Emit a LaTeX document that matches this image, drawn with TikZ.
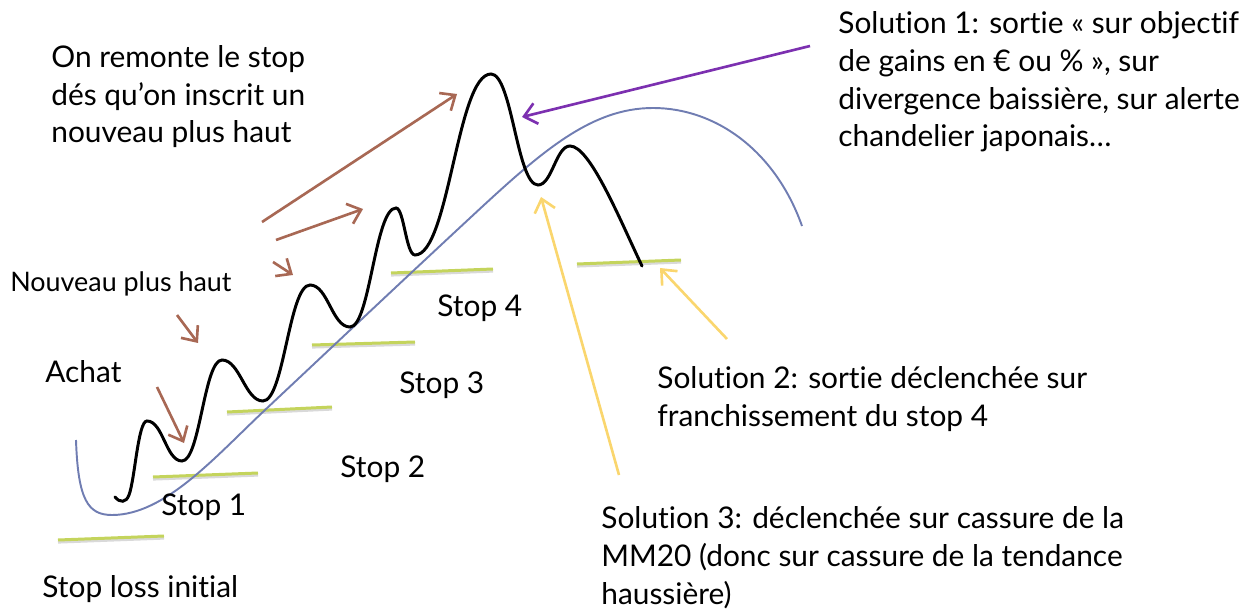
\documentclass[tikz,border=0pt]{standalone}
\usepackage{fontspec}
\setmainfont{Lato}[Ligatures=NoCommon]
\usepackage{tikz}
\usetikzlibrary{arrows.meta}

\definecolor{mmblue}{RGB}{112,125,178}
\definecolor{upbrown}{RGB}{168,104,84}
\definecolor{exitpurple}{RGB}{124,48,176}
\definecolor{exityellow}{RGB}{250,214,110}
\definecolor{stopgreen}{RGB}{196,212,92}

\tikzset{
  txt/.style={anchor=base west, inner sep=0pt, align=left,
    font=\fontsize{17}{21.6}\selectfont},
  stopline/.style={stopgreen, line width=1.7pt,
    preaction={draw=black!15, line width=1.7pt, transform canvas={yshift=-1.2pt}}},
  arr/.style={line width=1.5pt, -{Straight Barb[length=7pt,width=12pt]}},
}

\begin{document}
\begin{tikzpicture}[x=0.02cm, y=-0.02cm]
  \useasboundingbox (0,0) rectangle (1260,614);

  % stops
  \draw[stopline] (58,540) -- (164,536);
  \draw[stopline] (153,477) -- (258,473);
  \draw[stopline] (227,412) -- (332,407);
  \draw[stopline] (312,345) -- (415,342);
  \draw[stopline] (391,273) -- (493,269);
  \draw[stopline] (577,264) -- (681,260);

  % MM20
  \draw[mmblue, line width=1.1pt] (76,440) .. controls (78,500) and (88,515) .. (112,515)
    .. controls (165,515) and (215,457) .. (265,410)
    .. controls (330,349) and (400,283) .. (470,218)
    .. controls (540,153) and (590,108) .. (653,108)
    .. controls (715,108) and (775,150) .. (802,226);

  % cours
  \draw[black, line width=1.7pt, line cap=round] (115,497) .. controls (120,503) and (126,503) .. (129,495)
    .. controls (135,479) and (138,421) .. (147,421)
    .. controls (163,421) and (166,461) .. (182,461)
    .. controls (200,461) and (204,360) .. (222,360)
    .. controls (240,360) and (245,401) .. (263,401)
    .. controls (284,401) and (289,285) .. (310,285)
    .. controls (328,285) and (332,327) .. (350,327)
    .. controls (370,327) and (375,208) .. (396,208)
    .. controls (404,208) and (406,255) .. (415,255)
    .. controls (449,255) and (457,74) .. (491,74)
    .. controls (512,74) and (517,185) .. (538,185)
    .. controls (552,185) and (556,146) .. (570,146)
    .. controls (590,146) and (620,220) .. (642,266);

  % textes (base = derniere ligne)
  \node[txt] (remonte) at (51,143) {On remonte le stop\\dés qu’on inscrit un\\nouveau plus haut};
  \node[txt, font=\fontsize{15.3}{20}\selectfont] (nouveau) at (10,292) {Nouveau plus haut};
  \node[txt] (achat) at (45,383) {Achat};
  \node[txt] (stopA) at (161,515) {Stop 1};
  \node[txt] (stopB) at (340,477) {Stop 2};
  \node[txt] (stopC) at (399,394) {Stop 3};
  \node[txt] (stopD) at (437,317) {Stop 4};
  \node[txt] (initial) at (42,597) {Stop loss initial};
  \node[txt] (sol1) at (838,147) {Solution 1: sortie « sur objectif\\de gains en € ou \% », sur\\divergence baissière, sur alerte\\chandelier japonais…};
  \node[txt] (sol2) at (657,426) {Solution 2: sortie déclenchée sur\\franchissement du stop 4};
  \node[txt] (sol3) at (601,604) {Solution 3: déclenchée sur cassure de la\\MM20 (donc sur cassure de la tendance\\haussière)};

  % fleches
  \coordinate (achatS) at (157,387);
  \coordinate (achatE) at (184,443);
  \coordinate (hautS) at (177,315);
  \coordinate (hautE) at (198,343);
  \coordinate (upAS) at (273,262);
  \coordinate (upAE) at (293,275);
  \coordinate (upBS) at (276,240);
  \coordinate (upBE) at (363,209);
  \coordinate (upCS) at (262,222);
  \coordinate (upCE) at (457,94);
  \coordinate (solAS) at (810,46);
  \coordinate (solAE) at (522,117);
  \coordinate (solBS) at (727,339);
  \coordinate (solBE) at (660,268);
  \coordinate (solCS) at (619,475);
  \coordinate (solCE) at (541,197);

  \draw[arr, upbrown] (achatS) -- (achatE);
  \draw[arr, upbrown] (hautS) -- (hautE);
  \draw[arr, upbrown] (upAS) -- (upAE);
  \draw[arr, upbrown] (upBS) -- (upBE);
  \draw[arr, upbrown] (upCS) -- (upCE);
  \draw[arr, exitpurple] (solAS) -- (solAE);
  \draw[arr, exityellow] (solBS) -- (solBE);
  \draw[arr, exityellow] (solCS) -- (solCE);
\end{tikzpicture}
\end{document}
